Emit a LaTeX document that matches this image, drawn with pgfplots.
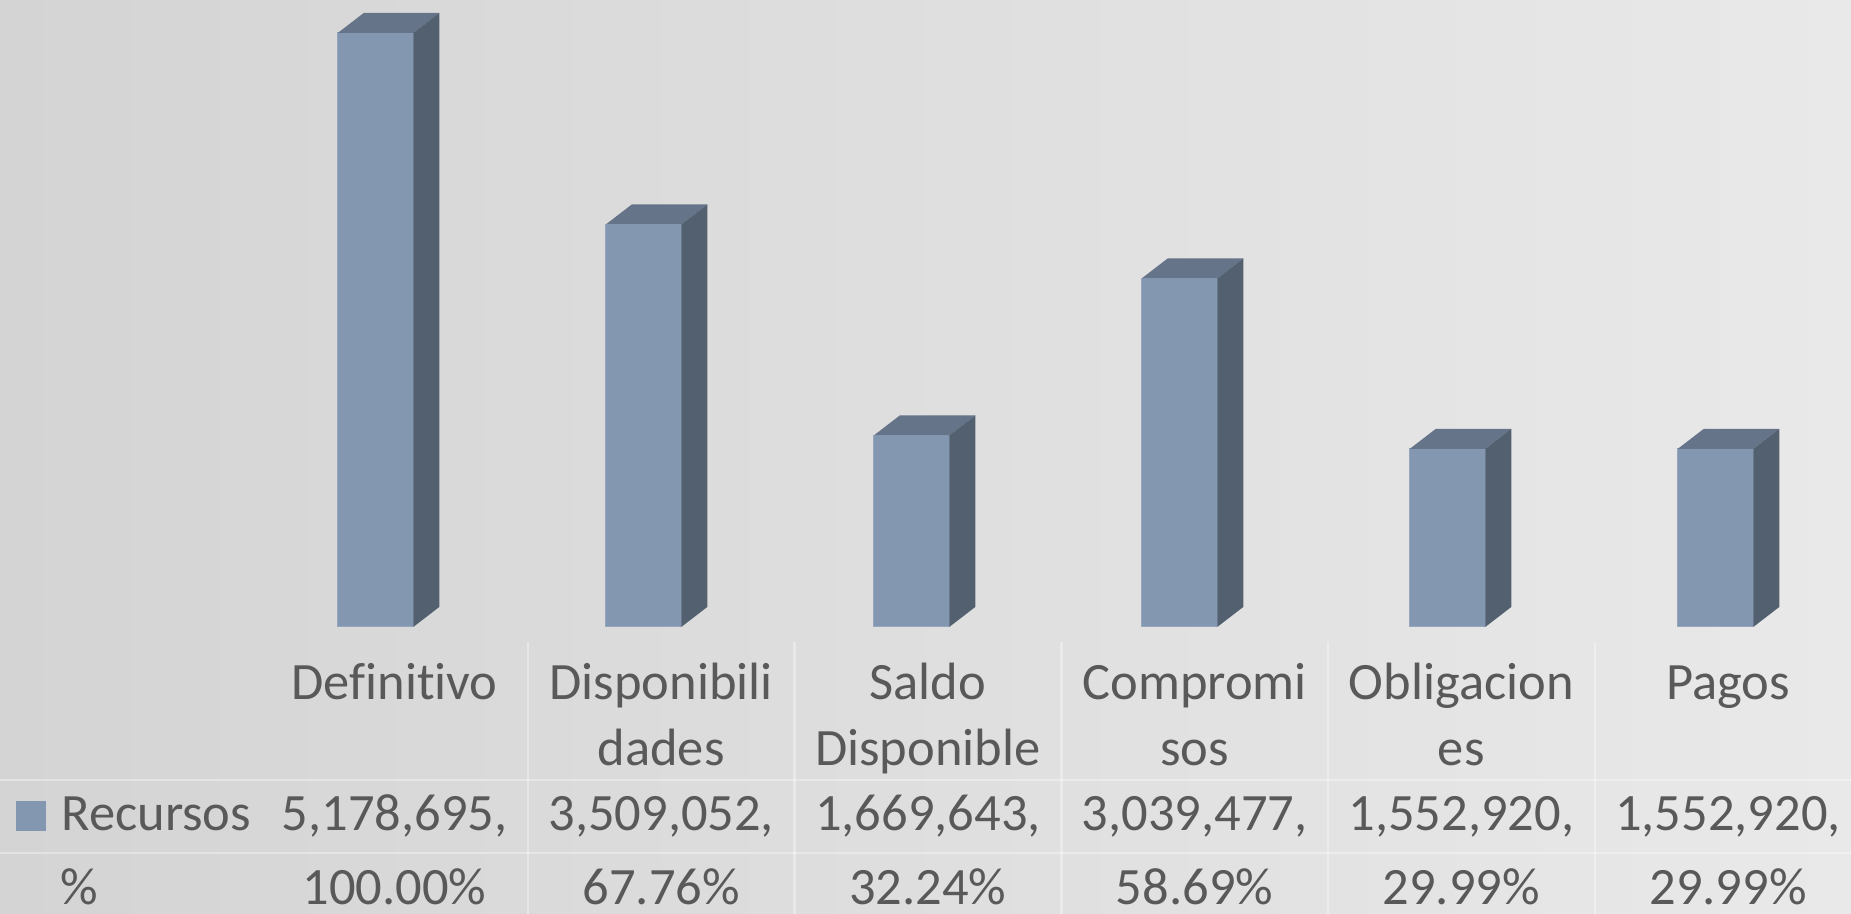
\documentclass[border=0pt]{standalone}
\usepackage{pgfplots}
\pgfplotsset{compat=1.18}
\usepackage{pgfplotstable}
\usepackage{fontspec}
\setmainfont{Carlito}[Ligatures={NoCommon}]
\definecolor{front}{RGB}{132,151,176}
\definecolor{frontedge}{RGB}{150,166,190}
\definecolor{side}{RGB}{83,96,112}
\definecolor{topc}{RGB}{101,116,136}
\definecolor{txt}{RGB}{89,89,89}
\definecolor{bgl}{RGB}{212,212,212}
\definecolor{bgr}{RGB}{233,233,233}

\pgfplotstableread{
x v
0 5178695
1 3509052
2 1669643
3 3039477
4 1552920
5 1552920
}\recursos

\pgfdeclareplotmark{box3d}{%
  \pgfmathparse{\pgfplotspointmetatransformed*0.2376}%
  \edef\hh{\pgfmathresult}%
  \pgfpathmoveto{\pgfpoint{-15.1pt}{0pt}}%
  \pgfpathlineto{\pgfpoint{15.1pt}{0pt}}%
  \pgfpathlineto{\pgfpoint{25.5pt}{8pt}}%
  \pgfpathlineto{\pgfpoint{-4.7pt}{8pt}}%
  \pgfpathclose
  \pgfsetfillcolor{topc}\pgfusepath{fill}%
  \pgfpathmoveto{\pgfpoint{15.1pt}{0pt}}%
  \pgfpathlineto{\pgfpoint{25.5pt}{8pt}}%
  \pgfpathlineto{\pgfpoint{25.5pt}{8pt-\hh pt}}%
  \pgfpathlineto{\pgfpoint{15.1pt}{-\hh pt}}%
  \pgfpathclose
  \pgfsetfillcolor{side}\pgfusepath{fill}%
}

\begin{document}
\begin{tikzpicture}
\shade[left color=bgl, right color=bgr] (0,0) rectangle (740.4pt,365.6pt);
\useasboundingbox (0,0) rectangle (740.4pt,365.6pt);
\begin{axis}[
  at={(150.2pt,114.8pt)}, anchor=south west,
  scale only axis, width=536pt, height=237.6pt,
  xmin=0, xmax=5, ymin=0, ymax=5178695,
  point meta min=0, point meta max=5178695,
  enlargelimits=false, hide axis, clip=false,
]
\addplot[ybar, bar width=30.2pt, bar shift=0pt, fill=front, draw=frontedge, line width=0.4pt] table[x=x,y=v] {\recursos};
\addplot[scatter, only marks, mark=box3d, point meta=y] table[x=x,y=v] {\recursos};
\end{axis}
\begin{scope}[x=0.4pt, y=-0.4pt, yshift=365.6pt]
  \begin{scope}[draw=white, draw opacity=0.35, line width=1pt]
    \foreach \k in {0,...,4} \draw ({528+266.7*\k},642) -- ({528+266.7*\k},914);
    \draw (0,780) -- (1851,780);
    \draw (0,853) -- (1851,853);
  \end{scope}
  \fill[front] (16,801) rectangle (46,831);
  \begin{scope}[every node/.style={text=txt, font=\fontsize{21}{25}\selectfont, inner sep=0pt, anchor=base}]
    \node[anchor=base west] at (61,831) {Recursos};
    \node[anchor=base west] at (60,905) {\%};
    \node at (394.5,700) {Definitivo};
    \node at (661.2,700) {Disponibili};
    \node at (661.2,766) {dades};
    \node at (927.9,700) {Saldo};
    \node at (927.9,766) {Disponible};
    \node at (1194.6,700) {Compromi};
    \node at (1194.6,766) {sos};
    \node at (1461.3,700) {Obligacion};
    \node at (1461.3,766) {es};
    \node at (1728,700) {Pagos};
    \node at (394.5,831) {5,178,695,};
    \node at (661.2,831) {3,509,052,};
    \node at (927.9,831) {1,669,643,};
    \node at (1194.6,831) {3,039,477,};
    \node at (1461.3,831) {1,552,920,};
    \node at (1728,831) {1,552,920,};
    \node at (394.5,905) {100.00\%};
    \node at (661.2,905) {67.76\%};
    \node at (927.9,905) {32.24\%};
    \node at (1194.6,905) {58.69\%};
    \node at (1461.3,905) {29.99\%};
    \node at (1728,905) {29.99\%};
  \end{scope}
\end{scope}
\end{tikzpicture}
\end{document}
